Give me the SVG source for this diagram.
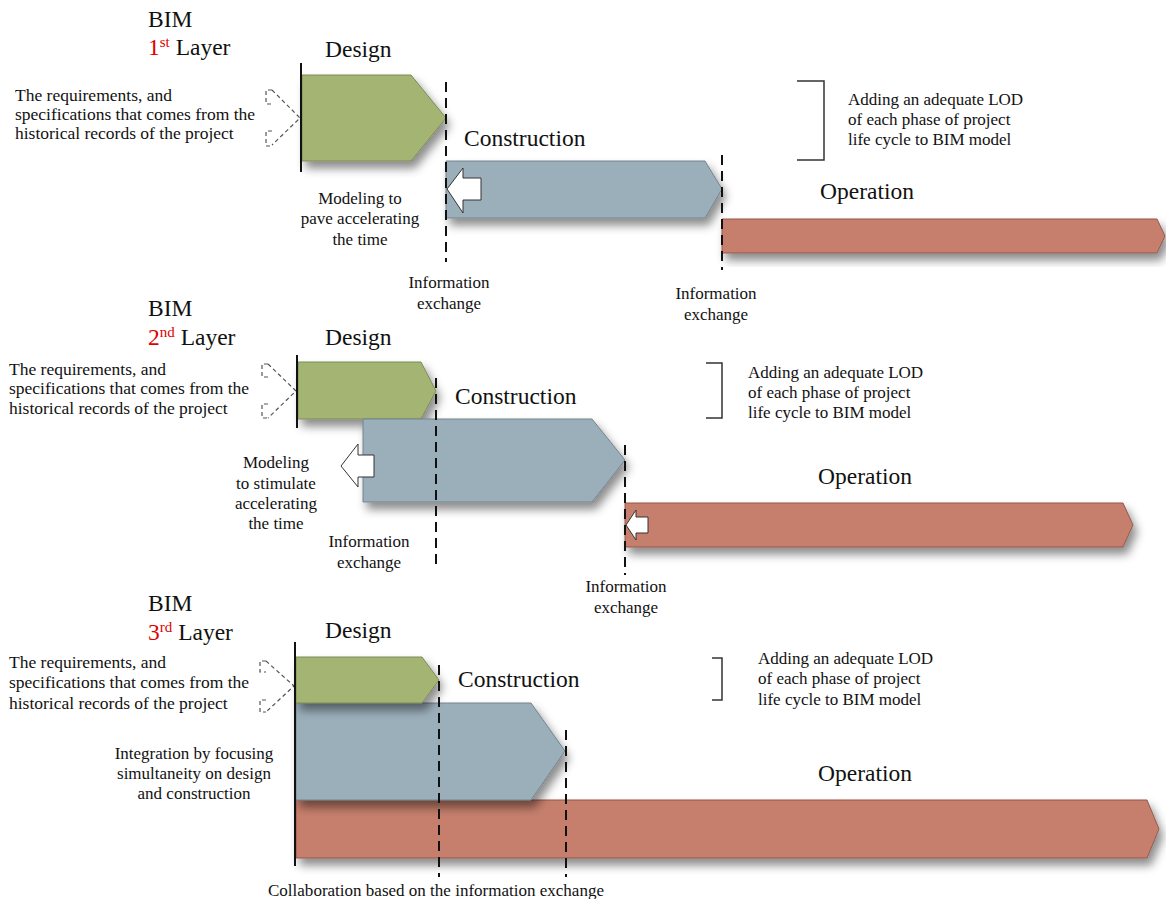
<svg xmlns="http://www.w3.org/2000/svg" width="1166" height="899" viewBox="0 0 1166 899">
<defs>
<filter id="sh" x="-10%" y="-20%" width="130%" height="160%">
<feDropShadow dx="4" dy="7" stdDeviation="5" flood-color="#000" flood-opacity="0.45"/>
</filter>
<style>
text{font-family:"Liberation Serif","Times New Roman",serif;fill:#111}
.big{font-size:23.5px}
.sm{font-size:17px}
.req{font-size:17.5px}
.mid{text-anchor:middle}
.red{fill:#e00000}
.green{fill:#a4b573;stroke:#7d8a58;stroke-width:1}
.blue{fill:#9bafbb;stroke:#72838d;stroke-width:1}
.orange{fill:#c67f6c;stroke:#93594a;stroke-width:1}
.solid{stroke:#111;stroke-width:2;fill:none}
.dash{stroke:#111;stroke-width:2;stroke-dasharray:10 6;fill:none}
.thin{stroke:#555;stroke-width:1.2;stroke-dasharray:4 3;fill:none}
.brk{stroke:#333;stroke-width:1.5;fill:none}
.arr{fill:#fff;stroke:#333;stroke-width:1}
</style>
</defs>
<rect width="1166" height="899" fill="#fff"/>

<!-- Layer 1 -->
<g id="layer1-title">
<text class="big" x="148" y="27">BIM</text>
<text class="big" x="148" y="55"><tspan class="red">1</tspan><tspan class="red" font-size="15" dy="-8">st</tspan><tspan dy="8"> Layer</tspan></text>
</g>
<g id="l1-req">
<text class="req" x="15" y="101">The requirements, and</text>
<text class="req" x="15" y="120">specifications that comes from the</text>
<text class="req" x="15" y="139">historical records of the project</text>
<path class="thin" d="M272,90 L266,90 L266,104 L272,104 M272,90 L300,118 L272,145 M272,131 L266,131 L266,146 L272,146"/>
</g>
<g id="l1-design">
<text class="big" x="325" y="57">Design</text>
<path class="green" filter="url(#sh)" d="M302,75 L411,75 L446,118 L411,161 L302,161 Z"/>
</g>
<g id="l1-construction">
<text class="big" x="464" y="146">Construction</text>
<path class="blue" filter="url(#sh)" d="M446,161 L705,161 L722,189 L705,218 L446,218 Z"/>
<path class="arr" d="M447,189 L463,168 L463,178 L481,178 L481,200 L463,200 L463,213 Z"/>
</g>
<g id="l1-operation">
<text class="big" x="820" y="199">Operation</text>
<path class="orange" filter="url(#sh)" d="M722,219 L1157,219 L1165,236 L1157,253 L722,253 Z"/>
</g>
<g id="l1-notes">
<text class="sm mid" x="360" y="204">Modeling to</text>
<text class="sm mid" x="360" y="224">pave accelerating</text>
<text class="sm mid" x="360" y="245">the time</text>
<text class="sm mid" x="449" y="288">Information</text>
<text class="sm mid" x="449" y="309">exchange</text>
<text class="sm mid" x="716" y="299">Information</text>
<text class="sm mid" x="716" y="320">exchange</text>
<path class="brk" d="M797,81 L824,81 L824,160 L797,160"/>
<text class="sm" x="848" y="105">Adding an adequate LOD</text>
<text class="sm" x="848" y="125">of each phase of project</text>
<text class="sm" x="848" y="145">life cycle to BIM model</text>
</g>

<!-- Layer 2 -->
<g id="layer2-title">
<text class="big" x="148" y="316">BIM</text>
<text class="big" x="148" y="345"><tspan class="red">2</tspan><tspan class="red" font-size="15" dy="-8">nd</tspan><tspan dy="8"> Layer</tspan></text>
</g>
<g id="l2-req">
<text class="req" x="9" y="375">The requirements, and</text>
<text class="req" x="9" y="394">specifications that comes from the</text>
<text class="req" x="9" y="414">historical records of the project</text>
<path class="thin" d="M268,364 L262,364 L262,377 L268,377 M268,364 L296,391 L268,418 M268,404 L262,404 L262,418 L268,418"/>
</g>
<g id="l2-design">
<text class="big" x="325" y="345">Design</text>
<path class="green" filter="url(#sh)" d="M298,362 L421,362 L436,391 L421,419 L298,419 Z"/>
</g>
<g id="l2-construction">
<text class="big" x="455" y="404">Construction</text>
<path class="blue" filter="url(#sh)" d="M363,419 L592,419 L625,460 L592,502 L363,502 Z"/>
<path class="arr" d="M341,466 L358,444 L358,455 L374,455 L374,477 L358,477 L358,487 Z"/>
</g>
<g id="l2-operation">
<text class="big" x="818" y="484">Operation</text>
<path class="orange" filter="url(#sh)" d="M625,503 L1123,503 L1133,525 L1123,547 L625,547 Z"/>
<path class="arr" d="M626,525 L636,510 L636,517 L648,517 L648,533 L636,533 L636,540 Z"/>
</g>
<g id="l2-notes">
<text class="sm mid" x="276" y="468">Modeling</text>
<text class="sm mid" x="276" y="489">to stimulate</text>
<text class="sm mid" x="276" y="509">accelerating</text>
<text class="sm mid" x="276" y="529">the time</text>
<text class="sm mid" x="369" y="547">Information</text>
<text class="sm mid" x="369" y="568">exchange</text>
<text class="sm mid" x="626" y="592">Information</text>
<text class="sm mid" x="626" y="613">exchange</text>
<path class="brk" d="M706,363 L722,363 L722,418 L706,418"/>
<text class="sm" x="748" y="378">Adding an adequate LOD</text>
<text class="sm" x="748" y="398">of each phase of project</text>
<text class="sm" x="748" y="418">life cycle to BIM model</text>
</g>

<!-- Layer 3 -->
<g id="layer3-title">
<text class="big" x="148" y="611">BIM</text>
<text class="big" x="148" y="640"><tspan class="red">3</tspan><tspan class="red" font-size="15" dy="-8">rd</tspan><tspan dy="8"> Layer</tspan></text>
</g>
<g id="l3-req">
<text class="req" x="9" y="668">The requirements, and</text>
<text class="req" x="9" y="688">specifications that comes from the</text>
<text class="req" x="9" y="709">historical records of the project</text>
<path class="thin" d="M266,661 L260,661 L260,672 L266,672 M266,661 L294,686 L266,712 M266,700 L260,700 L260,712 L266,712"/>
</g>
<g id="l3-operation">
<text class="big" x="818" y="781">Operation</text>
<path class="orange" filter="url(#sh)" d="M296,800 L1147,800 L1159,829 L1147,858 L296,858 Z"/>
</g>
<g id="l3-construction">
<text class="big" x="458" y="687">Construction</text>
<path class="blue" filter="url(#sh)" d="M296,703 L531,703 L565,751 L531,800 L296,800 Z"/>
</g>
<g id="l3-design">
<text class="big" x="325" y="638">Design</text>
<path class="green" filter="url(#sh)" d="M296,657 L422,657 L439,680 L422,703 L296,703 Z"/>
</g>
<g id="l3-notes">
<text class="sm mid" x="194" y="759">Integration by focusing</text>
<text class="sm mid" x="194" y="779">simultaneity on design</text>
<text class="sm mid" x="194" y="799">and construction</text>
<path class="brk" d="M712,658 L722,658 L722,700 L712,700"/>
<text class="sm" x="758" y="664">Adding an adequate LOD</text>
<text class="sm" x="758" y="684">of each phase of project</text>
<text class="sm" x="758" y="705">life cycle to BIM model</text>
<text class="sm" x="268" y="896" textLength="336" lengthAdjust="spacingAndGlyphs">Collaboration based on the information exchange</text>
</g>

<!-- connectors: phase boundaries -->
<g id="connectors">
<line class="solid" x1="301" y1="63" x2="301" y2="172"/>
<line class="dash" x1="446" y1="82" x2="446" y2="262"/>
<line class="dash" x1="722" y1="155" x2="722" y2="270"/>
<line class="solid" x1="297" y1="355" x2="297" y2="428"/>
<line class="dash" x1="436" y1="378" x2="436" y2="570"/>
<line class="dash" x1="625" y1="445" x2="625" y2="575"/>
<line class="solid" x1="295" y1="642" x2="295" y2="866"/>
<line class="dash" x1="439" y1="665" x2="439" y2="877"/>
<line class="dash" x1="566" y1="730" x2="566" y2="877"/>
</g>
</svg>
